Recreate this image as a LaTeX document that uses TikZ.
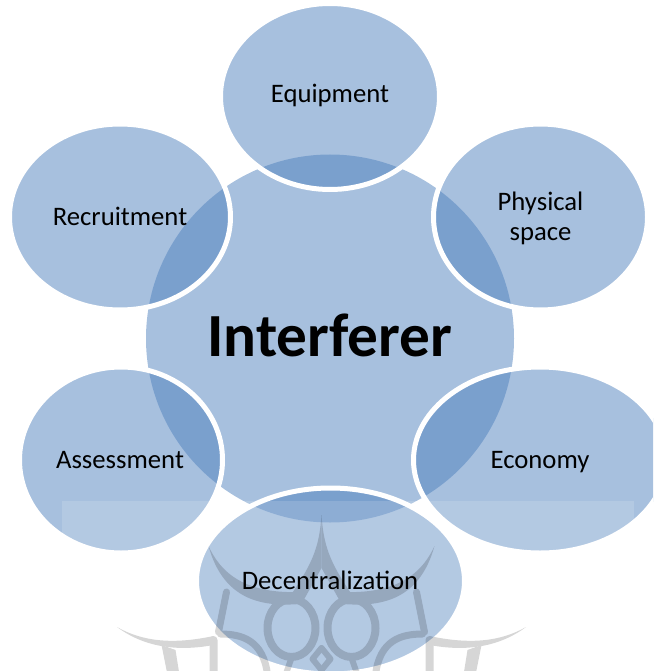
\documentclass[tikz,border=0pt]{standalone}
\usepackage{fontspec}
\setmainfont{Carlito}
\usetikzlibrary{shapes.geometric}
\definecolor{petal}{HTML}{4F81BD}
\tikzset{
  disc/.style={ellipse,inner sep=0pt,outer sep=0pt,align=center,fill=petal,fill opacity=.5,text opacity=1,text=black},
  sat/.style={disc,draw=white,draw opacity=1,line width=5pt},
  hub/.style={disc},
  caption/.style={inner sep=0pt,outer sep=0pt,text=black,align=center,font=\fontsize{26.7}{30}\selectfont},
  title/.style={inner sep=0pt,outer sep=0pt,text=black,font=\fontsize{61.3}{66}\selectfont\bfseries},
  band/.style={line width=#1,line cap=round,line join=round},
  veil/.style={fill=white,opacity=.14}
}
\newcommand{\lotushalf}{%
  \fill (0,515) .. controls (-2,545) and (-8,562) .. (-30,594) -- (-20,604) -- (0,568) -- cycle;
  \fill (-113,546) .. controls (-102,570) and (-80,594) .. (-22,592) -- (-22,604)
     .. controls (-60,607) and (-98,600) .. (-113,546) -- cycle;
  \draw[band=8pt] (-30,628) ellipse [x radius=24,y radius=29];
  \draw[band=7pt] (-95,592) -- (-103,632);
  \draw[band=7pt] (-101,634) .. controls (-80,634) and (-58,640) .. (-54,675);
  \draw[band=6pt] (0,648) -- (-9,659) -- (0,670);
  \draw[band=6pt] (-30,658) -- (-36,675);
  \fill (-204.5,627) .. controls (-180,641) and (-150,645) .. (-108,636) -- (-108,645)
     .. controls (-140,651) and (-175,649) .. (-204.5,627) -- cycle;
  \fill (-160,645) -- (-146,650) -- (-142,675) -- (-154,675) -- cycle;
  \draw[band=8pt] (-108,640) -- (-108,675);
}
\begin{document}
\begin{tikzpicture}[x=1pt,y=-1pt]
\useasboundingbox (0,0) rectangle (653,671);
\clip (0,0) rectangle (653,671);
\node[hub,minimum width=368pt,minimum height=368pt] (hubnode) at (330,338.5) {};
\node[sat,minimum width=219pt,minimum height=186pt] (equipment) at (330,96.5) {};
\node[sat,minimum width=214pt,minimum height=186pt] (physical) at (540.5,217) {};
\node[sat,minimum width=253pt,minimum height=186pt] (economy) at (540,460) {};
\node[sat,minimum width=268pt,minimum height=186pt] (decentral) at (330.5,581) {};
\node[sat,minimum width=203pt,minimum height=186pt] (assessment) at (121,460) {};
\node[sat,minimum width=221pt,minimum height=186pt] (recruitment) at (120,217) {};
\fill[veil] (62,501) rectangle (634,671);
\begin{scope}[transparency group,opacity=.16,black,xshift=321.5pt]
  \lotushalf
  \begin{scope}[xscale=-1]\lotushalf\end{scope}
\end{scope}
\node[title,anchor=base] (hubtext) at (330,356) {Interferer};
\node[caption,anchor=base] (equipmenttext) at (330,103) {Equipment};
\node[caption,anchor=base] (physicaltext1) at (540.5,210) {Physical};
\node[caption,anchor=base] (physicaltext2) at (540.5,240) {space};
\node[caption,anchor=base] (economytext) at (540,468) {Economy};
\node[caption,anchor=base] (decentraltext) at (330,589) {Decentralization};
\node[caption,anchor=base] (assessmenttext) at (120,468) {Assessment};
\node[caption,anchor=base] (recruitmenttext) at (120,225) {Recruitment};
\end{tikzpicture}
\end{document}
